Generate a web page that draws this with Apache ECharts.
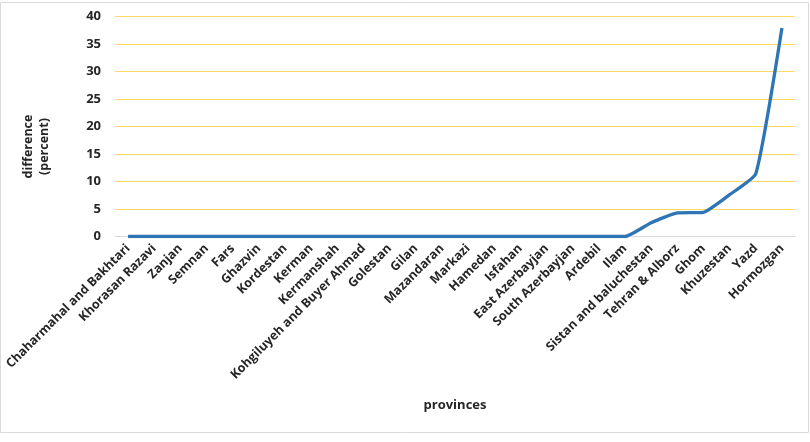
<!DOCTYPE html>
<html>
<head>
<meta charset="utf-8">
<script src="https://cdn.jsdelivr.net/npm/echarts@6/dist/echarts.min.js"></script>
<style>
html, body { margin: 0; padding: 0; background: #fff; }
#chart { width: 810px; height: 442px; }
</style>
</head>
<body>
<div id="chart"></div>
<script>
// 省份（横轴）
var provinces = [
    "Chaharmahal and Bakhtari", "Khorasan Razavi", "Zanjan", "Semnan", "Fars",
    "Ghazvin", "Kordestan", "Kerman", "Kermanshah", "Kohgiluyeh and Buyer Ahmad",
    "Golestan", "Gilan", "Mazandaran", "Markazi", "Hamedan", "Isfahan",
    "East Azerbayjan", "South Azerbayjan", "Ardebil", "Ilam",
    "Sistan and baluchestan", "Tehran & Alborz", "Ghom", "Khuzestan", "Yazd", "Hormozgan"
];
// 差值（百分比）
var difference = [
    0, 0, 0, 0, 0,
    0, 0, 0, 0, 0,
    0, 0, 0, 0, 0, 0,
    0, 0, 0, 0,
    2.5, 4.3, 4.4, 7.6, 11.4, 37.9
];

var chart = echarts.init(document.getElementById('chart'));
var font = 'Open Sans';

var option = {
    backgroundColor: '#fff',
    animation: false,
    graphic: [{
        type: 'rect',
        shape: { x: 0.5, y: 2.5, width: 808, height: 430 },
        style: { fill: 'none', stroke: '#d9d9d9', lineWidth: 1 },
        silent: true
    }],
    grid: {
        left: 115,
        right: 15,
        top: 16.5,
        bottom: 205.5
    },
    xAxis: {
        type: 'category',
        data: provinces,
        name: 'provinces',
        nameLocation: 'middle',
        nameGap: 162,
        nameTextStyle: { color: '#262626', fontFamily: font, fontWeight: 'bold', fontSize: 13 },
        axisLine: { lineStyle: { color: '#d9d9d9', width: 1 } },
        axisTick: { show: false },
        axisLabel: {
            interval: 0,
            rotate: 45,
            margin: 10,
            color: '#262626',
            fontFamily: font,
            fontWeight: 'bold',
            fontSize: 12.5
        }
    },
    yAxis: {
        type: 'value',
        min: 0,
        max: 40,
        interval: 5,
        name: 'difference\n(percent)',
        nameLocation: 'middle',
        nameRotate: 90,
        nameGap: 63,
        nameTextStyle: {
            color: '#262626', fontFamily: font, fontWeight: 'bold', fontSize: 12.5, lineHeight: 16,
            padding: [0, 40, 0, 0]   // 往下挪一点
        },
        axisLine: { show: false },
        axisTick: { show: false },
        axisLabel: {
            margin: 14,
            color: '#262626',
            fontFamily: font,
            fontWeight: 'bold',
            fontSize: 13
        },
        splitLine: { lineStyle: { color: '#ffd966', width: 1.2 } }
    },
    series: [{
        type: 'line',
        data: difference,
        smooth: 0.15,
        symbol: 'none',
        lineStyle: { color: '#2e75b6', width: 3.3 },
        itemStyle: { color: '#2e75b6' }
    }]
};

chart.setOption(option);
</script>
</body>
</html>
